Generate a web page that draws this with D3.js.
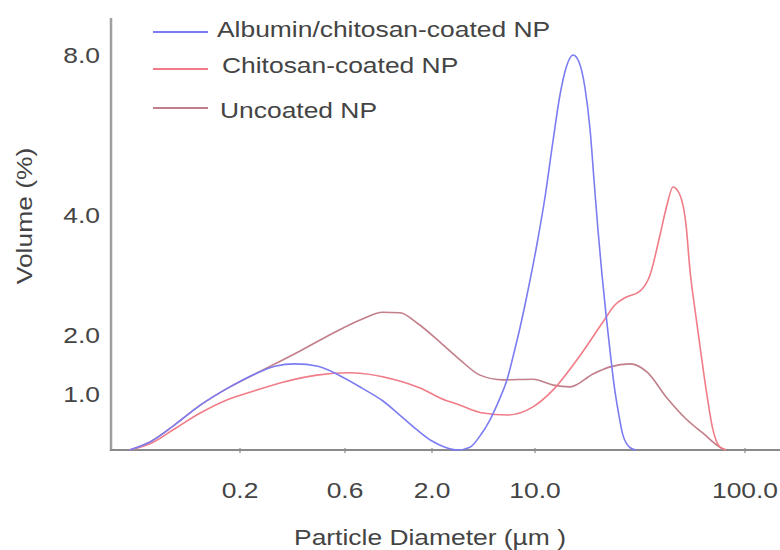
<!DOCTYPE html>
<html>
<head>
<meta charset="utf-8">
<script src="https://cdn.jsdelivr.net/npm/d3@7"></script>
<style>
  html, body { margin: 0; padding: 0; background: #fff; }
  svg { display: block; }
  text { font-family: "Liberation Sans", Arial, sans-serif; fill: #444; }
</style>
</head>
<body>
<svg id="chart" width="780" height="550"></svg>
<script>
// ---------- data (diameter in µm, volume in %) ----------
const xTickValues = [0.2, 0.6, 2.0, 10.0, 100.0];
const xTickLabels = ["0.2", "0.6", "2.0", "10.0", "100.0"];
const yTickValues = [0, 1, 2, 4, 8];
const yTickLabels = ["", "1.0", "2.0", "4.0", "8.0"];

const seriesNames = ["Albumin/chitosan-coated NP", "Chitosan-coated NP", "Uncoated NP"];

const albuminD = [0.063,0.078,0.101,0.132,0.180,0.234,0.288,0.356,0.452,0.569,0.759,1.015,1.285,1.626,2.0,2.45,3.0,3.62,4.23,4.95,5.79,6.46,7.09,7.91,8.97,10.2,11.2,12.2,13.15,14.05,15.2,16.2,17.3,18.3,19.1,19.95,20.85,21.8,22.8,23.8,24.85,26.2,28.4,30.3];
const albuminV = [0,0.143,0.45,0.80,1.12,1.34,1.47,1.51,1.47,1.31,1.10,0.875,0.62,0.36,0.16,0.05,0,0.05,0.25,0.54,0.93,1.24,1.63,2.12,2.75,3.5,4.5,5.875,7.0,7.675,8.0,7.825,7.175,6.125,4.875,3.75,3.0,2.33,1.71,1.15,0.71,0.27,0.04,0];

const chitosanD = [0.063,0.078,0.101,0.132,0.171,0.222,0.313,0.447,0.643,1.166,1.695,2.266,3.10,4.44,6.46,9.69,12.2,15.85,21.1,24.0,26.8,31.6,35.3,39.4,42.5,45.4,49.0,52.4,54.7,57.8,61.1,65.9,70.4,76.0,81.2];
const chitosanV = [0,0.11,0.38,0.66,0.88,1.03,1.20,1.32,1.36,1.25,1.10,0.93,0.80,0.66,0.625,0.77,1.07,1.58,2.22,2.5,2.62,2.73,3.0,3.67,4.25,4.7,4.5,3.83,3.08,2.42,1.80,0.98,0.36,0.05,0];

const uncoatedD = [0.063,0.078,0.101,0.132,0.180,0.234,0.288,0.375,0.529,0.739,1.015,1.285,1.626,2.266,3.10,4.23,6.07,9.69,12.2,14.7,18.9,22.8,28.4,34.2,42.5,52.9,63.1,76.0,81.2];
const uncoatedV = [0,0.143,0.45,0.80,1.12,1.34,1.51,1.73,2.03,2.25,2.38,2.37,2.2,1.88,1.58,1.32,1.24,1.25,1.15,1.12,1.34,1.46,1.51,1.37,0.93,0.54,0.30,0.05,0];

// ---------- layout ----------
const svg = d3.select("#chart");
const colors = ["#7c7cf2", "#f07c88", "#c27f8a"];
const stretch = 1.2;

const x = d3.scaleLog().domain(xTickValues).range([240, 345, 432, 535, 745]);
const y = d3.scaleLinear().domain(yTickValues).range([450, 394, 335, 215, 55]);

const axisLeft = 111, axisRight = 780, axisTop = 18, axisBottom = 450;

function stretchText(sel) {
  sel.each(function () {
    const len = this.getComputedTextLength();
    this.setAttribute("textLength", len * stretch);
    this.setAttribute("lengthAdjust", "spacingAndGlyphs");
  });
}

// axes
svg.append("line").attr("x1", axisLeft).attr("x2", axisLeft)
  .attr("y1", axisTop).attr("y2", axisBottom + 1)
  .attr("stroke", "#a0a0a0").attr("stroke-width", 2.5);
svg.append("line").attr("x1", axisLeft - 1).attr("x2", axisRight)
  .attr("y1", axisBottom).attr("y2", axisBottom)
  .attr("stroke", "#8a8a8a").attr("stroke-width", 2);

// x ticks
svg.selectAll(".xtick").data(xTickValues).enter().append("line")
  .attr("x1", d => x(d)).attr("x2", d => x(d))
  .attr("y1", axisBottom - 2).attr("y2", axisBottom + 3)
  .attr("stroke", "#8a8a8a").attr("stroke-width", 1.2);

svg.selectAll(".xlab").data(xTickValues).enter().append("text")
  .attr("x", d => x(d)).attr("y", 498)
  .attr("text-anchor", "middle").attr("font-size", 22)
  .text((d, i) => xTickLabels[i])
  .call(stretchText);

svg.selectAll(".ylab").data(yTickValues.filter((d, i) => yTickLabels[i] !== "")).enter().append("text")
  .attr("x", 100).attr("y", d => y(d) + 8)
  .attr("text-anchor", "end").attr("font-size", 22)
  .text(d => yTickLabels[yTickValues.indexOf(d)])
  .call(stretchText);

// axis titles
svg.append("text").attr("x", 430).attr("y", 545)
  .attr("text-anchor", "middle").attr("font-size", 22)
  .text("Particle Diameter (µm )").call(stretchText);
svg.append("text").attr("transform", "translate(32,216) rotate(-90)")
  .attr("text-anchor", "middle").attr("font-size", 22)
  .text("Volume (%)").call(stretchText);

// curves
const series = [
  { d: albuminD, v: albuminV },
  { d: chitosanD, v: chitosanV },
  { d: uncoatedD, v: uncoatedV }
];
const line = d3.line().x(p => x(p[0])).y(p => y(p[1])).curve(d3.curveMonotoneX);
// draw uncoated first, then chitosan, then albumin on top
[2, 1, 0].forEach(i => {
  const pts = series[i].d.map((dv, j) => [dv, series[i].v[j]]);
  svg.append("path").attr("d", line(pts))
    .attr("fill", "none").attr("stroke", colors[i]).attr("stroke-width", 1.6)
    .attr("stroke-linejoin", "round");
});

// legend
const legendRows = [
  { lineY: 32, textX: 217, textY: 37 },
  { lineY: 69, textX: 222, textY: 73 },
  { lineY: 108, textX: 220, textY: 118 }
];
seriesNames.forEach((name, i) => {
  const r = legendRows[i];
  svg.append("line").attr("x1", 153).attr("x2", 208)
    .attr("y1", r.lineY).attr("y2", r.lineY)
    .attr("stroke", colors[i]).attr("stroke-width", 2);
  svg.append("text").attr("x", r.textX).attr("y", r.textY)
    .attr("font-size", 22).text(name).call(stretchText);
});
</script>
</body>
</html>
